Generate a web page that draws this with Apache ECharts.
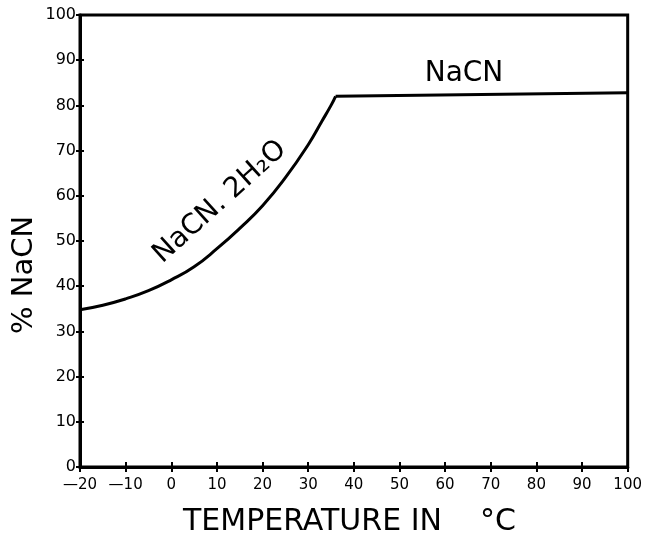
<!DOCTYPE html>
<html><head><meta charset="utf-8">
<script src="https://cdn.jsdelivr.net/npm/echarts@6/dist/echarts.min.js"></script>
<style>html,body{margin:0;padding:0;background:#fff}#c{width:645px;height:537px}</style>
</head><body><div id="c"></div>
<script>
// Data
const curveTemps  = [-20, -15, -10, -5, 0, 5, 10, 15, 20, 25, 30, 33, 35, 36];
const curveValues = [34.8, 35.8, 37.2, 39.0, 41.4, 44.3, 48.3, 52.8, 57.8, 64.0, 71.3, 76.5, 80.0, 82.0];
const plateauTemps  = [36, 100];
const plateauValues = [82.0, 82.8];
const xTicks = [-20, -10, 0, 10, 20, 30, 40, 50, 60, 70, 80, 90, 100];
const yTicks = [0, 10, 20, 30, 40, 50, 60, 70, 80, 90, 100];
const xTitle = 'TEMPERATURE IN';
const xUnit = '°C';
const yTitle = '% NaCN';
const labelAnhydrous = 'NaCN';
const labelHydrate = 'NaCN. 2H₂O';

const FONT = 'DejaVu Sans';
const chart = echarts.init(document.getElementById('c'), null, {renderer: 'canvas'});
const pairs = (xs, ys) => xs.map((x, i) => [x, ys[i]]);
const xAx = (extra) => Object.assign({
  type: 'value', min: xTicks[0], max: xTicks[xTicks.length - 1], interval: 10,
  splitLine: {show: false}
}, extra);
const yAx = (extra) => Object.assign({
  type: 'value', min: yTicks[0], max: yTicks[yTicks.length - 1], interval: 10,
  splitLine: {show: false}
}, extra);

chart.setOption({
  animation: false,
  grid: {left: 80, right: 12, top: 15, bottom: 70, show: true, borderColor: '#000', borderWidth: 3},
  xAxis: [
    xAx({
      position: 'bottom',
      axisLine: {show: true, onZero: false, lineStyle: {color: '#000', width: 3}},
      axisTick: {show: true, length: 5, lineStyle: {color: '#000', width: 2}},
      axisLabel: {color: '#000', fontFamily: FONT, fontSize: 15, margin: 11,
        formatter: v => v < 0 ? '—' + Math.abs(v) : String(v)}
    }),
    xAx({
      position: 'bottom',
      axisLine: {show: false, onZero: false},
      axisTick: {show: true, inside: true, length: 5, lineStyle: {color: '#000', width: 2}},
      axisLabel: {show: false}
    })
  ],
  yAxis: [
    yAx({
      position: 'left',
      axisLine: {show: true, onZero: false, lineStyle: {color: '#000', width: 3}},
      axisTick: {show: true, length: 4, lineStyle: {color: '#000', width: 2}},
      axisLabel: {color: '#000', fontFamily: FONT, fontSize: 16, margin: 4}
    }),
    yAx({
      position: 'left',
      axisLine: {show: false, onZero: false},
      axisTick: {show: true, inside: true, length: 4, lineStyle: {color: '#000', width: 2}},
      axisLabel: {show: false}
    })
  ],
  series: [
    {type: 'line', data: pairs(curveTemps, curveValues), smooth: 0.5, showSymbol: false,
     lineStyle: {color: '#000', width: 3}},
    {type: 'line', data: pairs(plateauTemps, plateauValues), showSymbol: false,
     lineStyle: {color: '#000', width: 3}}
  ],
  graphic: [
    {type: 'text', x: 183, y: 522,
     style: {text: xTitle, font: '30px "' + FONT + '"', fill: '#000', align: 'left', verticalAlign: 'middle'}},
    {type: 'text', x: 480, y: 522,
     style: {text: xUnit, font: '30px "' + FONT + '"', fill: '#000', align: 'left', verticalAlign: 'middle'}},
    {type: 'text', x: 24, y: 275, rotation: Math.PI / 2,
     style: {text: yTitle, font: '29px "' + FONT + '"', fill: '#000', align: 'center', verticalAlign: 'middle'}},
    {type: 'text', x: 464, y: 74,
     style: {text: labelAnhydrous, font: '28px "' + FONT + '"', fill: '#000', align: 'center', verticalAlign: 'middle'}},
    {type: 'text', x: 220, y: 202, rotation: 42 * Math.PI / 180,
     style: {text: labelHydrate, font: '28px "' + FONT + '"', fill: '#000', align: 'center', verticalAlign: 'middle'}}
  ]
});
</script></body></html>
